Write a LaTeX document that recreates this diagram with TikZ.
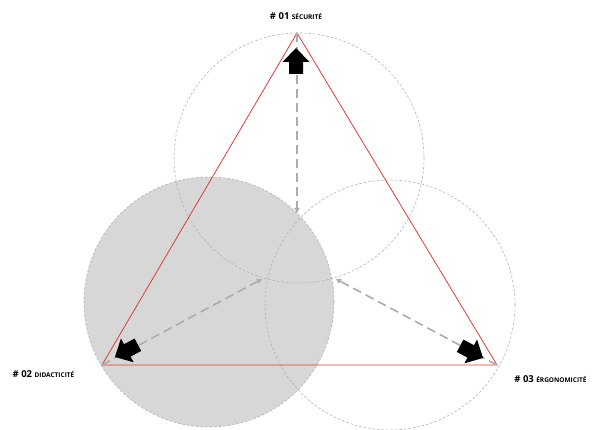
\documentclass[tikz,border=0pt]{standalone}
\usepackage{fontspec}
\setmainfont{Open Sans}
\usetikzlibrary{arrows.meta}

\definecolor{zonegray}{RGB}{178,178,178}
\definecolor{zonefill}{RGB}{215,215,215}
\definecolor{edgered}{RGB}{214,62,62}
\definecolor{axisgray}{RGB}{172,172,172}

\tikzset{
  zone/.style={circle, minimum size=250pt, inner sep=0pt, draw=zonegray,
    line width=0.6pt, dash pattern=on 2.5pt off 2pt},
  edge/.style={draw=edgered, line width=0.8pt, line join=miter},
  axisline/.style={draw=axisgray, line width=1.6pt, dash pattern=on 9pt off 5pt,
    -{Triangle[length=5pt,width=5pt]}},
  lbl/.style={font=\bfseries\fontsize{9.5}{11}\selectfont, inner sep=1pt},
  blockarrow/.pic={
    \fill[black] (14,0) -- (0,13.5) -- (0,7) -- (-12,7) -- (-12,-7)
      -- (0,-7) -- (0,-13.5) -- cycle;
  }
}
\newcommand{\smallcaps}[1]{{\fontsize{6.5}{8}\selectfont #1}}

\begin{document}
\begin{tikzpicture}[x=1pt,y=-1pt]
\useasboundingbox (0,0) rectangle (596,430);

% the three zones, the lower-left one shaded
\node[zone, fill=zonefill] (z2) at (209,302) {};
\node[zone] (z1) at (299,158) {};
\node[zone] (z3) at (390,305) {};

% vertices of the triangle and the inner ends of the axes
\coordinate (A) at (297,33);
\coordinate (B) at (102,365);
\coordinate (C) at (497,365);
\coordinate (ta) at (297,213);
\coordinate (tb) at (262,279);
\coordinate (tc) at (336,279);

\draw[edge] (A) -- (B) -- (C) -- cycle;

% dashed axes
\draw[axisline] (A) -- (ta);
\draw[axisline] (B) -- (tb);
\draw[axisline] (C) -- (tc);

% block arrows pointing at the vertices
\pic[rotate=90] at (296,62) {blockarrow};
\pic[rotate=208] at (127.3,350.4) {blockarrow};
\pic[rotate=332] at (470.7,351.4) {blockarrow};

% labels
\node[lbl] (l1) at (296,16) {\# 01 \smallcaps{SÉCURITÉ}};
\node[lbl] (l2) at (43.5,374) {\# 02 \smallcaps{DIDACTICITÉ}};
\node[lbl] (l3) at (550.5,379) {\# 03 \smallcaps{ÉRGONOMICITÉ}};
\end{tikzpicture}
\end{document}
